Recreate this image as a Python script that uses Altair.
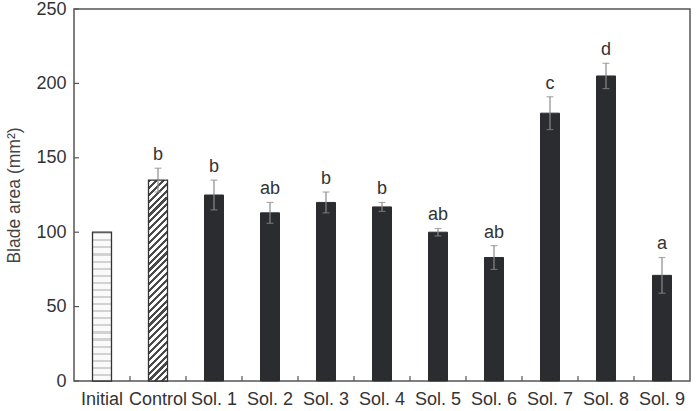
import altair as alt
import pandas as pd

categories = ["Initial", "Control", "Sol. 1", "Sol. 2", "Sol. 3", "Sol. 4",
              "Sol. 5", "Sol. 6", "Sol. 7", "Sol. 8", "Sol. 9"]
means = [100, 135, 125, 113, 120, 117, 100, 83, 180, 205, 71]
errors = [0, 8, 10, 7, 7, 3, 2.5, 8, 11, 8.5, 12]
letters = ["", "b", "b", "ab", "b", "b", "ab", "ab", "c", "d", "a"]
groups = ["initial", "control"] + ["solution"] * 9
y_ticks = [0, 50, 100, 150, 200, 250]

FONT = "Liberation Sans"
PLOT_W, PLOT_H = 616, 372
STEP = PLOT_W / len(categories)

df = pd.DataFrame({
    "cat": categories,
    "mean": means,
    "err": errors,
    "letter": letters,
    "group": groups,
})
df["lo"] = df["mean"] - df["err"]
df["hi"] = df["mean"] + df["err"]

# hatch (diagonal stripes) via hard-edged linear gradient
N = 32
hatch_stops = []
for i in range(N):
    a = i / N
    b = (i + 0.45) / N
    c = (i + 1) / N
    hatch_stops += [
        alt.GradientStop(color="#4a4a4a", offset=a),
        alt.GradientStop(color="#4a4a4a", offset=b),
        alt.GradientStop(color="#ffffff", offset=b),
        alt.GradientStop(color="#ffffff", offset=c),
    ]
hatch = alt.LinearGradient(gradient="linear", stops=hatch_stops,
                           x1=0, y1=0, x2=0.1025, y2=1.085)

# dotted (light) texture via faint horizontal bands
M = 21
dot_stops = []
for i in range(M):
    a = i / M
    b = (i + 0.3) / M
    c = (i + 1) / M
    dot_stops += [
        alt.GradientStop(color="#d2d2d2", offset=a),
        alt.GradientStop(color="#d2d2d2", offset=b),
        alt.GradientStop(color="#fafafa", offset=b),
        alt.GradientStop(color="#fafafa", offset=c),
    ]
dots = alt.LinearGradient(gradient="linear", stops=dot_stops,
                          x1=0, y1=0, x2=0, y2=1)

x_enc = alt.X(
    "cat:N", sort=categories,
    scale=alt.Scale(paddingInner=0, paddingOuter=0),
    axis=alt.Axis(title=None, ticks=False, domain=False, labelAngle=0,
                  labelOverlap=False),
)
y_scale = alt.Scale(domain=[0, 250], nice=False)
y_axis = alt.Axis(title="Blade area (mm²)", values=y_ticks, ticks=False,
                  domain=False, grid=False)
y_enc = alt.Y("mean:Q", scale=y_scale, axis=y_axis)


def y_other(f):
    return alt.Y(f, scale=y_scale, axis=y_axis)


base = alt.Chart(df).encode(x=x_enc)

bars_init = base.transform_filter(alt.datum.group == "initial").mark_bar(
    width=19, fill=dots, stroke="#333333", strokeWidth=1.3
).encode(y=y_enc)
bars_ctrl = base.transform_filter(alt.datum.group == "control").mark_bar(
    width=19, fill=hatch, stroke="#333333", strokeWidth=1.3
).encode(y=y_enc)
bars_sol = base.transform_filter(alt.datum.group == "solution").mark_bar(
    width=19, fill="#2b2c30", stroke="#2b2c30", strokeWidth=1
).encode(y=y_enc)

err_df = base.transform_filter(alt.datum.err > 0)
err_rule = err_df.mark_rule(color="#8a8a8a", strokeWidth=1.2).encode(
    y=y_other("lo:Q"), y2="hi:Q")
cap_hi = err_df.mark_tick(color="#8a8a8a", orient="horizontal", size=7,
                          thickness=1.2).encode(y=y_other("hi:Q"))
cap_lo = err_df.mark_tick(color="#8a8a8a", orient="horizontal", size=7,
                          thickness=1.2).encode(y=y_other("lo:Q"))

labels = base.mark_text(font=FONT, fontSize=18, color="#333333",
                        baseline="alphabetic", dy=-8).encode(
    y=y_other("hi:Q"), text="letter:N")

# inward x ticks at category boundaries
xticks = alt.Chart(df[df["cat"] != categories[0]]).mark_rule(
    color="#555555", strokeWidth=1.2, xOffset=-STEP / 2
).encode(x=x_enc, y=alt.value(PLOT_H), y2=alt.value(PLOT_H - 5))

# inward y ticks
yt_df = pd.DataFrame({"v": y_ticks})
yticks = alt.Chart(yt_df).mark_rule(color="#555555", strokeWidth=1.2).encode(
    y=y_other("v:Q"), x=alt.value(0), x2=alt.value(5))

chart = alt.layer(
    bars_init, bars_ctrl, bars_sol, err_rule, cap_hi, cap_lo, labels,
    xticks, yticks
).properties(
    width=PLOT_W, height=PLOT_H,
    autosize=alt.AutoSizeParams(type="none"),
    padding={"left": 74, "top": 9, "right": 8, "bottom": 30},
    background="white",
).configure_view(
    stroke="#555555", strokeWidth=1.5
).configure_axisX(
    labelFont=FONT, labelFontSize=18, labelColor="#333333", labelPadding=9,
).configure_axisY(
    labelFont=FONT, labelFontSize=18, labelColor="#333333", labelPadding=8,
    titleFont=FONT, titleFontSize=17.5, titleFontWeight="normal",
    titleColor="#444444", titlePadding=12,
)

chart.save("out.html", embed_options={"renderer": "svg", "actions": False})
